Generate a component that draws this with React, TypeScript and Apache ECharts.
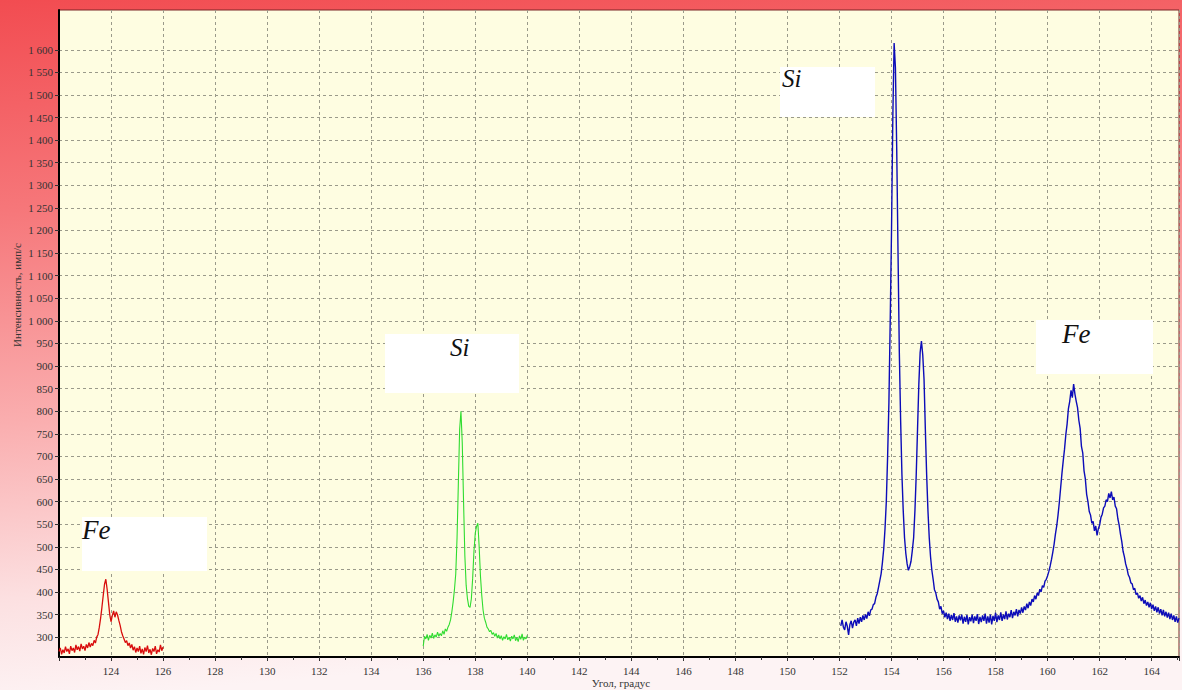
import React, { useEffect, useRef } from "react";
import * as echarts from "echarts";

// ---- Data: [angle (deg), intensity (imp/s)] ----
const feLowScan: [number, number][] = [
  [122.0, 268], [122.05, 276], [122.1, 262], [122.15, 272], [122.2, 265], [122.25, 279], [122.3, 268], [122.35, 274],
  [122.4, 263], [122.45, 280], [122.5, 270], [122.55, 276], [122.6, 266], [122.65, 283], [122.7, 272], [122.75, 279],
  [122.8, 269], [122.85, 285], [122.9, 274], [122.95, 280], [123.0, 270], [123.05, 284], [123.1, 276], [123.15, 288],
  [123.2, 278], [123.25, 286], [123.3, 281], [123.35, 293], [123.4, 287], [123.45, 300], [123.5, 306], [123.55, 322],
  [123.6, 342], [123.65, 366], [123.7, 392], [123.75, 417], [123.8, 428], [123.85, 406], [123.9, 378], [123.95, 350],
  [124.0, 334], [124.05, 348], [124.1, 358], [124.15, 344], [124.2, 356], [124.25, 349], [124.3, 337], [124.35, 326],
  [124.4, 312], [124.45, 303], [124.5, 296], [124.55, 288], [124.6, 292], [124.65, 281], [124.7, 287], [124.75, 276],
  [124.8, 284], [124.85, 271], [124.9, 279], [124.95, 266], [125.0, 276], [125.05, 268], [125.1, 280], [125.15, 264],
  [125.2, 274], [125.25, 262], [125.3, 277], [125.35, 268], [125.4, 281], [125.45, 265], [125.5, 273], [125.55, 261],
  [125.6, 275], [125.65, 268], [125.7, 280], [125.75, 263], [125.8, 272], [125.85, 267], [125.9, 283], [125.95, 270],
  [126.0, 278],
];

const siLowScan: [number, number][] = [
  [136.0, 280], [136.05, 302], [136.1, 296], [136.15, 306], [136.2, 293], [136.25, 304], [136.3, 298], [136.35, 309],
  [136.4, 297], [136.45, 305], [136.5, 300], [136.55, 311], [136.6, 302], [136.65, 308], [136.7, 303], [136.75, 314],
  [136.8, 306], [136.85, 318], [136.9, 313], [136.95, 322], [137.0, 328], [137.05, 338], [137.1, 356], [137.15, 378],
  [137.2, 405], [137.25, 440], [137.3, 520], [137.35, 640], [137.4, 760], [137.45, 800], [137.5, 730], [137.55, 600],
  [137.6, 480], [137.65, 415], [137.7, 385], [137.75, 368], [137.8, 366], [137.85, 385], [137.9, 430], [137.95, 490],
  [138.0, 530], [138.05, 545], [138.1, 552], [138.15, 500], [138.2, 435], [138.25, 392], [138.3, 360], [138.35, 342],
  [138.4, 333], [138.45, 322], [138.5, 318], [138.55, 312], [138.6, 315], [138.65, 306], [138.7, 310], [138.75, 302],
  [138.8, 308], [138.85, 298], [138.9, 305], [138.95, 296], [139.0, 303], [139.05, 293], [139.1, 301], [139.15, 296],
  [139.2, 306], [139.25, 294], [139.3, 300], [139.35, 291], [139.4, 302], [139.45, 296], [139.5, 305], [139.55, 292],
  [139.6, 299], [139.65, 290], [139.7, 303], [139.75, 295], [139.8, 307], [139.85, 293], [139.9, 300], [139.95, 296],
  [140.0, 304],
];

const highScan: [number, number][] = [
  [152.05, 325], [152.1, 338], [152.15, 322], [152.2, 316], [152.25, 334], [152.3, 324], [152.35, 305], [152.4, 328],
  [152.45, 336], [152.5, 320], [152.55, 333], [152.6, 338], [152.65, 325], [152.7, 342], [152.75, 330], [152.8, 344],
  [152.85, 334], [152.9, 348], [152.95, 338], [153.0, 350], [153.05, 341], [153.1, 356], [153.15, 347], [153.2, 360],
  [153.25, 362], [153.3, 372], [153.35, 374], [153.4, 388], [153.45, 396], [153.5, 410], [153.55, 425], [153.6, 440],
  [153.65, 465], [153.7, 495], [153.75, 540], [153.8, 600], [153.85, 700], [153.9, 820], [153.95, 1000], [154.0, 1200],
  [154.05, 1450], [154.1, 1615], [154.15, 1560], [154.2, 1380], [154.25, 1150], [154.3, 930], [154.35, 780], [154.4, 660],
  [154.45, 580], [154.5, 520], [154.55, 485], [154.6, 462], [154.65, 448], [154.7, 456], [154.75, 468], [154.8, 492],
  [154.85, 520], [154.9, 580], [154.95, 660], [155.0, 760], [155.05, 860], [155.1, 930], [155.15, 955], [155.2, 925],
  [155.25, 870], [155.3, 760], [155.35, 660], [155.4, 580], [155.45, 520], [155.5, 478], [155.55, 448], [155.6, 428],
  [155.65, 405], [155.7, 398], [155.75, 384], [155.8, 378], [155.85, 362], [155.9, 368], [155.95, 352], [156.0, 358],
  [156.05, 344], [156.1, 354], [156.15, 340], [156.2, 352], [156.25, 336], [156.3, 349], [156.35, 338], [156.4, 353],
  [156.45, 334], [156.5, 346], [156.55, 332], [156.6, 348], [156.65, 337], [156.7, 350], [156.75, 330], [156.8, 345],
  [156.85, 334], [156.9, 349], [156.95, 328], [157.0, 344], [157.05, 335], [157.1, 350], [157.15, 331], [157.2, 346],
  [157.25, 336], [157.3, 351], [157.35, 329], [157.4, 345], [157.45, 333], [157.5, 348], [157.55, 336], [157.6, 352],
  [157.65, 330], [157.7, 346], [157.75, 332], [157.8, 350], [157.85, 328], [157.9, 347], [157.95, 336], [158.0, 354],
  [158.05, 333], [158.1, 348], [158.15, 338], [158.2, 355], [158.25, 336], [158.3, 350], [158.35, 340], [158.4, 357],
  [158.45, 339], [158.5, 352], [158.55, 344], [158.6, 360], [158.65, 342], [158.7, 356], [158.75, 348], [158.8, 362],
  [158.85, 346], [158.9, 360], [158.95, 352], [159.0, 366], [159.05, 354], [159.1, 368], [159.15, 360], [159.2, 374],
  [159.25, 364], [159.3, 378], [159.35, 370], [159.4, 384], [159.45, 378], [159.5, 392], [159.55, 384], [159.6, 398],
  [159.65, 392], [159.7, 406], [159.75, 400], [159.8, 414], [159.85, 410], [159.9, 424], [159.95, 428], [160.0, 436],
  [160.05, 446], [160.1, 458], [160.15, 472], [160.2, 488], [160.25, 506], [160.3, 528], [160.35, 546], [160.4, 570],
  [160.45, 598], [160.5, 630], [160.55, 662], [160.6, 690], [160.65, 716], [160.7, 748], [160.75, 772], [160.8, 806],
  [160.85, 822], [160.9, 846], [160.95, 830], [161.0, 860], [161.05, 838], [161.1, 822], [161.15, 808], [161.2, 780],
  [161.25, 762], [161.3, 722], [161.35, 708], [161.4, 668], [161.45, 650], [161.5, 616], [161.55, 600], [161.6, 578],
  [161.65, 570], [161.7, 552], [161.75, 556], [161.8, 535], [161.85, 546], [161.9, 525], [161.95, 540], [162.0, 548],
  [162.05, 565], [162.1, 572], [162.15, 586], [162.2, 590], [162.25, 604], [162.3, 600], [162.35, 618], [162.4, 608],
  [162.45, 622], [162.5, 604], [162.55, 610], [162.6, 590], [162.65, 584], [162.7, 562], [162.75, 548], [162.8, 528],
  [162.85, 512], [162.9, 490], [162.95, 478], [163.0, 462], [163.05, 452], [163.1, 438], [163.15, 432], [163.2, 420],
  [163.25, 418], [163.3, 405], [163.35, 408], [163.4, 394], [163.45, 398], [163.5, 386], [163.55, 392], [163.6, 380],
  [163.65, 388], [163.7, 374], [163.75, 382], [163.8, 370], [163.85, 378], [163.9, 366], [163.95, 376], [164.0, 362],
  [164.05, 372], [164.1, 358], [164.15, 368], [164.2, 355], [164.25, 366], [164.3, 352], [164.35, 362], [164.4, 348],
  [164.45, 360], [164.5, 346], [164.55, 356], [164.6, 343], [164.65, 354], [164.7, 340], [164.75, 352], [164.8, 338],
  [164.85, 348], [164.9, 334], [164.95, 346], [165.0, 332], [165.05, 342],
];

const yTicks: number[] = [
  300, 350, 400, 450, 500, 550, 600, 650, 700, 750, 800, 850, 900, 950,
  1000, 1050, 1100, 1150, 1200, 1250, 1300, 1350, 1400, 1450, 1500, 1550, 1600,
];

const annotations = [
  { label: "Fe", box: [82, 517, 125, 54], text: [82, 543], size: 27 },
  { label: "Si", box: [385, 334, 134, 59], text: [450, 360], size: 25 },
  { label: "Si", box: [780, 67, 95, 50], text: [782, 91], size: 25 },
  { label: "Fe", box: [1036, 320, 117, 54], text: [1062, 347], size: 27 },
];

const fmtY = (v: number) => {
  if (v >= 1000) {
    return `${Math.floor(v / 1000)} ${String(v % 1000).padStart(3, "0")}`;
  }
  return String(v);
};

const SERIF = "Liberation Serif";

export default function App() {
  const ref = useRef<HTMLDivElement>(null);

  useEffect(() => {
    document.body.style.margin = "0";
    const chart = echarts.init(ref.current!, null, { renderer: "svg" });

    const graphics: any[] = [];
    annotations.forEach((a) => {
      graphics.push({
        type: "rect",
        shape: { x: a.box[0], y: a.box[1], width: a.box[2], height: a.box[3] },
        style: { fill: "#ffffff" },
        z: 50,
      });
      graphics.push({
        type: "text",
        x: a.text[0],
        y: a.text[1],
        style: {
          text: a.label,
          fontFamily: SERIF,
          fontStyle: "italic",
          fontSize: a.size,
          fill: "#111",
          textAlign: "left",
          textVerticalAlign: "bottom",
        },
        z: 51,
      });
    });
    graphics.push({
      type: "text",
      x: 17,
      y: 295,
      rotation: Math.PI / 2,
      style: {
        text: "Интенсивность, имп/с",
        fontFamily: SERIF,
        fontSize: 11,
        fill: "#333",
        textAlign: "center",
        textVerticalAlign: "middle",
      },
      z: 50,
    });
    graphics.push({
      type: "text",
      x: 621,
      y: 683,
      style: {
        text: "Угол, градус",
        fontFamily: SERIF,
        fontSize: 11,
        fill: "#333",
        textAlign: "center",
        textVerticalAlign: "middle",
      },
      z: 50,
    });

    const gridLine = { show: true, lineStyle: { color: "#9a9a8a", type: [3, 3] as any, width: 1 } };

    chart.setOption({
      animation: false,
      backgroundColor: new echarts.graphic.LinearGradient(0, 0, 0.15, 1, [
        { offset: 0, color: "#F24C51" },
        { offset: 0.3, color: "#F6777A" },
        { offset: 0.6, color: "#FAAEAF" },
        { offset: 0.85, color: "#FCE0E1" },
        { offset: 1, color: "#FDF3F4" },
      ]),
      grid: {
        left: 59,
        right: 1,
        top: 10,
        bottom: 33,
        show: true,
        backgroundColor: "#FEFDE1",
        borderColor: "#7a2626",
        borderWidth: 1,
      },
      xAxis: {
        type: "value",
        min: 122,
        max: 165.05,
        interval: 2,
        axisLine: { show: true, onZero: false, lineStyle: { color: "#000", width: 2 } },
        axisTick: { show: true, length: 4, lineStyle: { color: "#333" } },
        minorTick: { show: true, splitNumber: 2, length: 3, lineStyle: { color: "#333" } },
        axisLabel: {
          fontFamily: SERIF,
          fontSize: 11,
          color: "#333",
          margin: 8,
          formatter: (v: number) => (v > 122 && v % 2 === 0 ? String(v) : ""),
        },
        splitLine: gridLine,
      },
      yAxis: {
        type: "value",
        min: 256,
        max: 1688,
        axisLine: { show: true, onZero: false, lineStyle: { color: "#000", width: 2 } },
        axisTick: { show: true, length: 4, customValues: yTicks, lineStyle: { color: "#333" } },
        axisLabel: {
          fontFamily: SERIF,
          fontSize: 11,
          color: "#333",
          margin: 6,
          customValues: yTicks,
          formatter: fmtY,
        },
        splitLine: gridLine,
      },
      series: [
        {
          type: "line",
          data: feLowScan,
          showSymbol: false,
          lineStyle: { color: "#d80d0d", width: 1.3 },
          z: 10,
        },
        {
          type: "line",
          data: siLowScan,
          showSymbol: false,
          lineStyle: { color: "#2fdc2f", width: 1.1 },
          z: 10,
        },
        {
          type: "line",
          data: highScan,
          showSymbol: false,
          lineStyle: { color: "#0c0cb8", width: 1.4 },
          z: 10,
        },
      ],
      graphic: graphics,
    });

    return () => chart.dispose();
  }, []);

  return <div ref={ref} style={{ width: 1182, height: 690 }} />;
}
